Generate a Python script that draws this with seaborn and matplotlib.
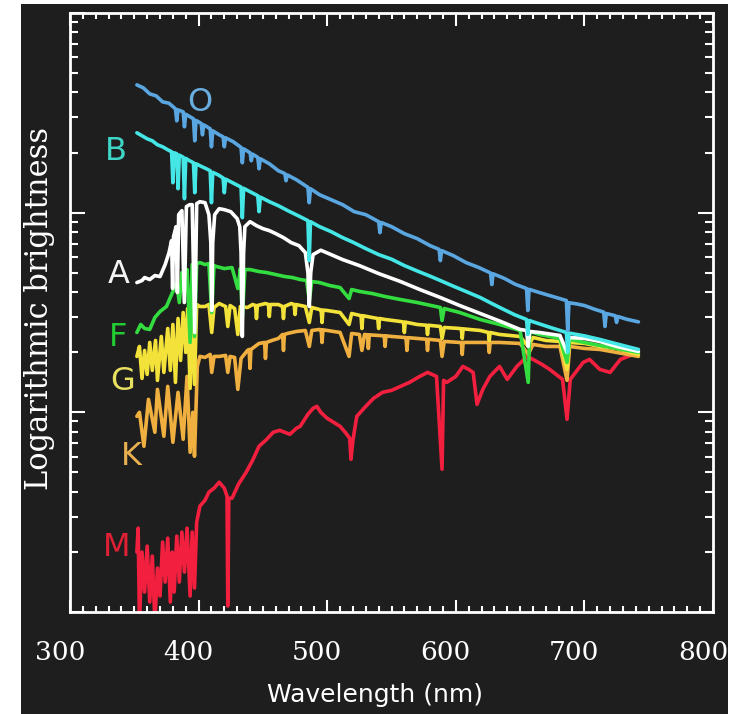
import numpy as np
import pandas as pd
import seaborn as sns
import matplotlib.pyplot as plt
from matplotlib.patches import Rectangle
from matplotlib.ticker import MultipleLocator, LogLocator, NullFormatter
from matplotlib.transforms import ScaledTranslation

# Spectra: wavelength (nm) and log10 brightness
o_wl = [352, 357, 362, 367, 372, 377, 382, 383, 384, 388, 389, 390, 396, 397, 398, 402, 403, 404, 409, 410,
        411, 416, 419, 420, 421, 427, 433, 434, 435, 440, 441, 442, 446, 447, 448, 455, 462, 467, 468, 469,
        476, 485, 486, 487, 494, 503, 512, 521, 530, 540, 541, 542, 550, 560, 570, 580, 587, 588, 589, 598,
        608, 618, 627, 628, 629, 638, 646, 655, 656, 657, 665, 676, 686, 687, 688, 694, 700, 708, 715, 716,
        717, 724, 725, 726, 733, 742]
o_logb = [2.640, 2.625, 2.595, 2.585, 2.555, 2.548, 2.520, 2.46, 2.515, 2.505, 2.43, 2.493, 2.470, 2.36, 2.462, 2.447, 2.39, 2.44, 2.420, 2.33,
          2.41, 2.39, 2.38, 2.33, 2.375, 2.355, 2.327, 2.25, 2.320, 2.300, 2.26, 2.293, 2.277, 2.22, 2.270, 2.245, 2.21, 2.196, 2.16, 2.189,
          2.165, 2.127, 2.05, 2.12, 2.090, 2.065, 2.04, 2.005, 1.99, 1.955, 1.90, 1.951, 1.93, 1.895, 1.87, 1.835, 1.816, 1.76, 1.81, 1.785,
          1.75, 1.725, 1.698, 1.64, 1.694, 1.67, 1.642, 1.620, 1.51, 1.616, 1.6, 1.579, 1.56, 1.41, 1.549, 1.543, 1.535, 1.516, 1.502, 1.43,
          1.495, 1.484, 1.45, 1.480, 1.466, 1.453]

b_wl = [352, 356, 360, 364, 368, 372, 376, 379, 380, 381, 383, 384, 385, 388, 389, 390, 393, 396, 397, 398,
        402, 406, 409, 410, 411, 415, 419, 420, 421, 427, 433, 434, 435, 440, 446, 447, 448, 455, 462, 470,
        478, 485, 486, 487, 494, 503, 512, 520, 530, 540, 550, 560, 570, 580, 588, 598, 608, 619, 628, 638,
        646, 655, 656, 657, 665, 675, 686, 687, 688, 700, 712, 725, 742]
b_logb = [2.40, 2.385, 2.37, 2.36, 2.34, 2.33, 2.315, 2.305, 2.15, 2.30, 2.295, 2.12, 2.288, 2.278, 2.07, 2.272, 2.26, 2.25, 2.10, 2.245,
          2.232, 2.22, 2.21, 2.05, 2.202, 2.19, 2.174, 2.10, 2.168, 2.148, 2.128, 1.975, 2.122, 2.105, 2.085, 2.005, 2.078, 2.055, 2.035, 2.008,
          1.983, 1.96, 1.76, 1.955, 1.93, 1.905, 1.875, 1.852, 1.82, 1.79, 1.767, 1.735, 1.708, 1.682, 1.66, 1.632, 1.605, 1.575, 1.545, 1.513,
          1.488, 1.465, 1.39, 1.46, 1.443, 1.422, 1.40, 1.30, 1.397, 1.383, 1.365, 1.343, 1.315]

a_wl = [352, 356, 358, 362, 366, 370, 374, 377, 379, 379.8, 380.5, 382.5, 383.5, 384.5, 387, 388.9, 390.5, 393, 395, 397,
        398.5, 401, 405, 408, 409.5, 410.2, 411, 412.5, 416, 420, 425, 430, 432, 433, 434, 435, 436, 440, 445, 450,
        455, 460, 466, 472, 478, 483, 485, 486.1, 487.2, 489, 495, 503, 512, 525, 540, 557, 572, 588, 603, 619,
        635, 650, 655, 656.3, 657.5, 665, 681, 686.5, 688, 700, 712, 725, 742]
a_logb = [1.65, 1.66, 1.675, 1.665, 1.685, 1.68, 1.74, 1.80, 1.86, 1.62, 1.88, 1.93, 1.60, 1.99, 2.01, 1.55, 2.03, 2.04, 2.04, 1.40,
          2.045, 2.055, 2.05, 1.99, 1.85, 1.51, 1.85, 1.99, 2.02, 2.015, 2.005, 1.97, 1.93, 1.80, 1.38, 1.80, 1.93, 1.955, 1.935, 1.92,
          1.91, 1.895, 1.875, 1.85, 1.835, 1.80, 1.70, 1.53, 1.70, 1.79, 1.812, 1.79, 1.765, 1.735, 1.695, 1.655, 1.615, 1.575, 1.535, 1.495,
          1.455, 1.415, 1.41, 1.33, 1.405, 1.40, 1.385, 1.30, 1.375, 1.37, 1.355, 1.33, 1.305]

f_wl = [352, 355, 358, 362, 366, 370, 375, 379, 383, 385, 387, 389, 391, 393.4, 395, 396.8, 398.5, 401, 405, 408,
        410.2, 412, 414, 420, 426, 430.5, 432.5, 434, 436, 440, 447, 453, 460, 467, 473, 479, 484, 486.1, 488, 494,
        502, 510, 517, 519, 525.5, 535, 545, 557, 570, 588, 589.3, 591, 603, 619, 634, 650, 656.3, 657.5, 665, 681,
        686.5, 688.5, 700, 712, 725, 742]
f_logb = [1.40, 1.44, 1.42, 1.415, 1.475, 1.505, 1.53, 1.59, 1.65, 1.55, 1.70, 1.60, 1.715, 1.35, 1.74, 1.38, 1.745, 1.75, 1.74, 1.745,
          1.50, 1.735, 1.73, 1.72, 1.725, 1.62, 1.72, 1.47, 1.715, 1.715, 1.705, 1.70, 1.69, 1.68, 1.675, 1.665, 1.66, 1.56, 1.655, 1.65,
          1.635, 1.625, 1.57, 1.615, 1.605, 1.595, 1.58, 1.565, 1.55, 1.525, 1.46, 1.52, 1.50, 1.465, 1.44, 1.41, 1.15, 1.405, 1.39, 1.37,
          1.25, 1.365, 1.35, 1.335, 1.32, 1.30]

g_wl = [352, 354, 356, 358, 360, 362, 364, 366.5, 368, 371, 373, 376, 378, 380, 382, 384, 386, 388, 390, 391.5,
        393.4, 395, 396.8, 398.5, 401, 405, 408, 410.2, 412, 416, 421, 422.7, 424.5, 428, 430.5, 432.5,
        438, 442, 444.3, 445, 445.7, 452, 454.3, 455, 455.7, 462, 465.3, 466, 466.7, 472, 474.3, 475, 475.7, 483, 486.1, 488,
        494, 495.3, 496, 496.7, 500, 510, 517, 519, 526.3, 527, 527.7, 535, 539.3, 540, 540.7, 545, 557, 559.3, 560, 560.7,
        570, 577.3, 578, 578.7, 588, 589.3, 591, 603, 604.3, 605, 605.7, 619, 625.3, 626, 626.7, 634, 650, 656.3, 660, 670,
        681, 686.5, 688.5, 700, 712, 725, 742]
g_logb = [1.28, 1.33, 1.17, 1.31, 1.19, 1.35, 1.21, 1.36, 1.16, 1.38, 1.20, 1.42, 1.21, 1.44, 1.15, 1.47, 1.26, 1.50, 1.30, 1.52,
          1.12, 1.53, 1.14, 1.54, 1.53, 1.53, 1.54, 1.40, 1.525, 1.545, 1.53, 1.43, 1.535, 1.52, 1.39, 1.53,
          1.525, 1.54, 1.535, 1.47, 1.535, 1.545, 1.54, 1.48, 1.54, 1.54, 1.53, 1.47, 1.53, 1.545, 1.54, 1.49, 1.54, 1.53, 1.45, 1.525,
          1.515, 1.512, 1.45, 1.512, 1.51, 1.50, 1.44, 1.495, 1.484, 1.42, 1.484, 1.475, 1.47, 1.42, 1.47, 1.465, 1.455, 1.452, 1.40, 1.452,
          1.44, 1.436, 1.39, 1.436, 1.43, 1.37, 1.425, 1.42, 1.418, 1.37, 1.418, 1.41, 1.40, 1.36, 1.40, 1.39, 1.38, 1.33, 1.375, 1.36,
          1.355, 1.215, 1.35, 1.345, 1.33, 1.32, 1.29]

k_wl = [352, 354, 357.5, 361, 366, 368, 373, 376, 380, 384, 388, 391, 393.4, 395.5, 396.8, 399, 401, 405, 409, 410.2,
        412, 416, 421, 422.7, 424.5, 428, 430.5, 433,
        438, 439.3, 440, 440.7, 447, 451.3, 452, 452.7, 457, 462, 465.3, 466, 466.7, 469, 476, 483, 486.1, 488, 494, 495.3,
        496, 496.7, 500, 505, 510, 517, 519, 525, 527, 529, 531.3, 532, 532.7, 540, 544.3, 545, 545.7, 550, 560, 561.3,
        562, 562.7, 570, 577.3, 578, 578.7, 588, 589.3, 591, 603, 604.3, 605, 605.7, 619, 625.3, 626, 626.7, 634, 650, 656.3,
        660, 670, 681, 686.5, 688.5, 700, 712, 725, 742]
k_logb = [0.98, 1.0, 0.83, 1.065, 0.90, 1.115, 0.88, 1.13, 0.85, 1.10, 0.865, 1.18, 0.80, 1.0, 0.78, 1.23, 1.28, 1.275, 1.29, 1.20,
          1.28, 1.28, 1.285, 1.20, 1.28, 1.275, 1.115, 1.27,
          1.31, 1.315, 1.22, 1.315, 1.345, 1.35, 1.27, 1.35, 1.36, 1.37, 1.39, 1.31, 1.39, 1.395, 1.405, 1.41, 1.33, 1.41, 1.415, 1.413,
          1.35, 1.413, 1.41, 1.405, 1.40, 1.28, 1.395, 1.39, 1.31, 1.39, 1.388, 1.32, 1.388, 1.385, 1.383, 1.33, 1.383, 1.38, 1.375, 1.374,
          1.31, 1.374, 1.37, 1.366, 1.31, 1.366, 1.36, 1.28, 1.355, 1.35, 1.35, 1.29, 1.35, 1.35, 1.35, 1.30, 1.35, 1.35, 1.345, 1.29,
          1.34, 1.33, 1.33, 1.16, 1.33, 1.32, 1.315, 1.30, 1.28]

m_wl = [352, 353, 354, 356, 358, 360, 362, 364, 366, 368, 370, 372, 374, 376, 378, 379.5, 381, 383, 385, 387,
        389, 391, 393.4, 395, 396.8, 398.5, 401, 405, 408, 412, 416, 420, 422.1, 422.7, 423.5, 426, 431, 437, 442, 447,
        453, 458, 463, 471, 476, 479, 485, 489, 492, 495, 500, 505, 510, 514, 517.5, 518.5, 520, 523, 530, 536,
        543, 550, 557, 564, 572, 578, 585, 589.3, 590.5, 593, 600, 605.5, 610, 613.5, 616.5, 621, 626.5, 634, 640, 647.5,
        655.5, 660, 667, 673, 683, 686.5, 689, 699, 704, 712, 720, 728, 738, 742]
m_logb = [0.30, 0.42, -0.05, 0.30, 0.10, 0.33, 0.05, 0.28, -0.05, 0.22, 0.08, 0.35, 0.15, 0.37, 0.05, 0.30, 0.10, 0.38, 0.15, 0.40,
          0.20, 0.42, 0.08, 0.40, 0.12, 0.45, 0.53, 0.56, 0.60, 0.62, 0.65, 0.62, 0.58, 0.03, 0.57, 0.57, 0.64, 0.70, 0.76, 0.83,
          0.865, 0.90, 0.91, 0.89, 0.92, 0.93, 0.99, 1.02, 1.03, 1.00, 0.97, 0.95, 0.93, 0.90, 0.87, 0.765, 0.86, 0.98, 1.03, 1.07,
          1.10, 1.11, 1.13, 1.15, 1.18, 1.20, 1.18, 0.715, 1.16, 1.15, 1.18, 1.23, 1.215, 1.20, 1.04, 1.115, 1.18, 1.23, 1.165, 1.23,
          1.28, 1.265, 1.24, 1.215, 1.165, 0.965, 1.165, 1.25, 1.265, 1.215, 1.20, 1.265, 1.29, 1.29]

star_types = ["M", "K", "G", "F", "A", "B", "O"]
line_colors = {"O": "#5aa6e0", "B": "#44e6e6", "A": "#ffffff", "F": "#33dd40",
               "G": "#f2e23a", "K": "#f0b040", "M": "#f2203e"}
label_colors = {"O": "#6aaee0", "B": "#3ed6c6", "A": "#f4f4f4", "F": "#22cc33",
                "G": "#e8e060", "K": "#e8b050", "M": "#e02034"}

BG = "#1e1e1e"

frames = []
for name, wl, lb in [("M", m_wl, m_logb), ("K", k_wl, k_logb), ("G", g_wl, g_logb), ("F", f_wl, f_logb),
                     ("A", a_wl, a_logb), ("B", b_wl, b_logb), ("O", o_wl, o_logb)]:
    frames.append(pd.DataFrame({"wavelength": wl, "brightness": np.power(10.0, lb), "star": name}))
spectra = pd.concat(frames, ignore_index=True)

sns.set_style("dark")
plt.rcParams["font.family"] = ["DejaVu Sans"]

fig = plt.figure(figsize=(7.39, 7.14), dpi=100, facecolor="white")
fig.patches.append(Rectangle((21 / 739, 0), 707 / 739, 710 / 714, transform=fig.transFigure,
                             facecolor=BG, edgecolor="none", zorder=-10))
ax = fig.add_axes([70 / 739, 1 - 612 / 714, 643 / 739, 599 / 714])
ax.set_facecolor(BG)

sns.lineplot(data=spectra, x="wavelength", y="brightness", hue="star", hue_order=star_types,
             palette=line_colors, estimator=None, sort=False, lw=2.6, legend=False, ax=ax)

ax.set_yscale("log")
ax.set_xlim(300, 800)
ax.set_ylim(1, 1000)
ax.set_xlabel("")
ax.set_ylabel("")
ax.grid(False)

ax.xaxis.set_major_locator(MultipleLocator(100))
ax.xaxis.set_minor_locator(MultipleLocator(10))
ax.yaxis.set_major_locator(LogLocator(base=10))
ax.yaxis.set_minor_locator(LogLocator(base=10, subs=np.arange(2, 10)))
ax.yaxis.set_major_formatter(NullFormatter())
ax.yaxis.set_minor_formatter(NullFormatter())

ax.tick_params(which="both", direction="in", top=True, right=True, bottom=True, left=True,
               colors="white", width=1.5, labelleft=False)
ax.tick_params(axis="x", which="major", length=9, pad=20, labelsize=19)
ax.tick_params(axis="x", which="minor", length=4.5)
ax.tick_params(axis="y", which="major", length=10.5)
ax.tick_params(axis="y", which="minor", length=6)
for lab in ax.get_xticklabels():
    lab.set_fontfamily("DejaVu Serif")
    lab.set_color("white")
    lab.set_transform(lab.get_transform() + ScaledTranslation(-0.1, 0, fig.dpi_scale_trans))

for side in ax.spines.values():
    side.set_color("white")
    side.set_linewidth(2)

# spectral class letters
letter_pos = {"O": (401, 2.55), "B": (336, 2.305), "A": (338, 1.69), "F": (337, 1.375),
              "G": (341, 1.155), "K": (348, 0.78), "M": (336, 0.325)}
for name, (x, lb) in letter_pos.items():
    ax.text(x, 10 ** lb, name, color=label_colors[name], fontsize=23,
            ha="center", va="center")

fig.text(375 / 739, 1 - 695 / 714, "Wavelength (nm)", color="white", fontsize=18,
         ha="center", va="center")
fig.text(40 / 739, 1 - 308 / 714, "Logarithmic brightness", color="white", fontsize=22,
         family="DejaVu Serif", rotation=90, ha="center", va="center")

fig.savefig("out.png", dpi=100, facecolor=fig.get_facecolor())
